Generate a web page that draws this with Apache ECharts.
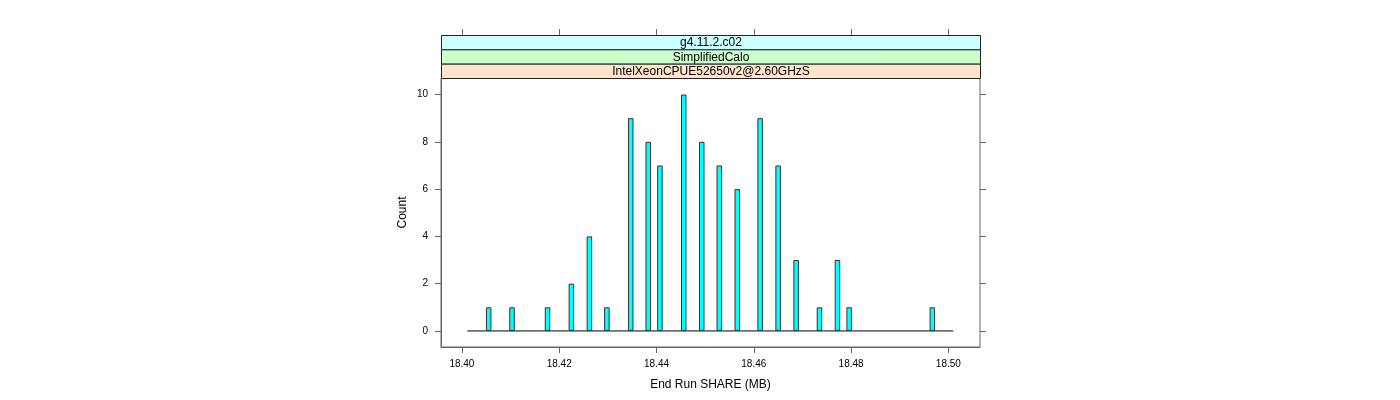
<!DOCTYPE html>
<html>
<head>
<meta charset="utf-8">
<script src="https://cdn.jsdelivr.net/npm/echarts@6/dist/echarts.min.js"></script>
<style>
html,body{margin:0;padding:0;background:#fff;}
#chart{width:1400px;height:400px;}
</style>
</head>
<body>
<div id="chart"></div>
<script>
// ---- data ----
const binCenters = [18.4055, 18.4103, 18.4176, 18.4225, 18.4262, 18.4298, 18.4347, 18.4383,
  18.4407, 18.4456, 18.4493, 18.4529, 18.4566, 18.4613, 18.4650, 18.4687, 18.4735, 18.4772,
  18.4796, 18.4967];
const counts = [1, 1, 1, 2, 4, 1, 9, 8, 7, 10, 8, 7, 6, 9, 7, 3, 1, 3, 1, 1];
const histRange = [18.4011, 18.5010];
const xTicks = [18.40, 18.42, 18.44, 18.46, 18.48, 18.50];
const yTicks = [0, 2, 4, 6, 8, 10];
const stripLabels = ['g4.11.2.c02', 'SimplifiedCalo', 'IntelXeonCPUE52650v2@2.60GHzS'];
const stripColors = ['#ccffff', '#ccffcc', '#ffe5cc'];
const xTitle = 'End Run SHARE (MB)';
const yTitle = 'Count';

// ---- layout ----
const G = {left: 441, top: 78, width: 539, height: 269};
const stripH = 43 / 3;
const FONT = '"Liberation Sans", Arial, sans-serif';
const AX = '#666';

const chart = echarts.init(document.getElementById('chart'), null, {renderer: 'canvas'});

const graphics = stripLabels.map((t, i) => ({
  type: 'group',
  left: G.left, top: G.top - 43 + i * stripH,
  children: [
    {type: 'rect', shape: {x: 0, y: 0, width: G.width, height: stripH},
     style: {fill: stripColors[i], stroke: '#222', lineWidth: 1}},
    {type: 'text', x: G.width / 2, y: stripH / 2 + 0.5,
     style: {text: t, fill: '#000', font: '12px ' + FONT, align: 'center', verticalAlign: 'middle'}}
  ]
}));

const tickStyle = {show: true, length: 6, inside: false, lineStyle: {color: AX, width: 1}};

chart.setOption({
  animation: false,
  backgroundColor: '#fff',
  grid: Object.assign({show: true, borderColor: AX, borderWidth: 1, backgroundColor: 'transparent'}, G),
  xAxis: [
    {type: 'value', position: 'bottom', min: 18.3957, max: 18.5065,
     axisLine: {show: true, onZero: false, lineStyle: {color: AX}},
     axisTick: Object.assign({customValues: xTicks}, tickStyle),
     axisLabel: {show: true, customValues: xTicks, margin: 12, color: '#000', fontSize: 10, fontFamily: FONT,
       formatter: v => v.toFixed(2)},
     splitLine: {show: false},
     name: xTitle, nameLocation: 'middle', nameGap: 32,
     nameTextStyle: {color: '#000', fontSize: 12, fontFamily: FONT}},
    {type: 'value', position: 'top', offset: 43, min: 18.3957, max: 18.5065,
     axisLine: {show: false, onZero: false},
     axisTick: Object.assign({customValues: xTicks}, tickStyle),
     axisLabel: {show: false},
     splitLine: {show: false}}
  ],
  yAxis: [
    {type: 'value', position: 'left', min: -0.68, max: 10.7,
     axisLine: {show: true, onZero: false, lineStyle: {color: AX}},
     axisTick: Object.assign({customValues: yTicks}, tickStyle),
     axisLabel: {show: true, customValues: yTicks, margin: 13, color: '#000', fontSize: 10, fontFamily: FONT,
       padding: [3, 0, 0, 0]},
     splitLine: {show: false},
     name: yTitle, nameLocation: 'middle', nameGap: 32, nameRotate: 90,
     nameTextStyle: {color: '#000', fontSize: 12, fontFamily: FONT}},
    {type: 'value', position: 'right', min: -0.68, max: 10.7,
     axisLine: {show: false, onZero: false},
     axisTick: Object.assign({customValues: yTicks}, tickStyle),
     axisLabel: {show: false},
     splitLine: {show: false}}
  ],
  series: [
    {type: 'line', xAxisIndex: 0, yAxisIndex: 0, symbol: 'none', silent: true,
     data: histRange.map(x => [x, 0]),
     lineStyle: {color: '#000', width: 1}, z: 1},
    {type: 'bar', xAxisIndex: 0, yAxisIndex: 0, barWidth: 5.5,
     data: binCenters.map((x, i) => [x, counts[i]]),
     itemStyle: {color: '#00ffff', borderColor: '#333', borderWidth: 1}, z: 2}
  ],
  graphic: graphics
});
</script>
</body>
</html>
